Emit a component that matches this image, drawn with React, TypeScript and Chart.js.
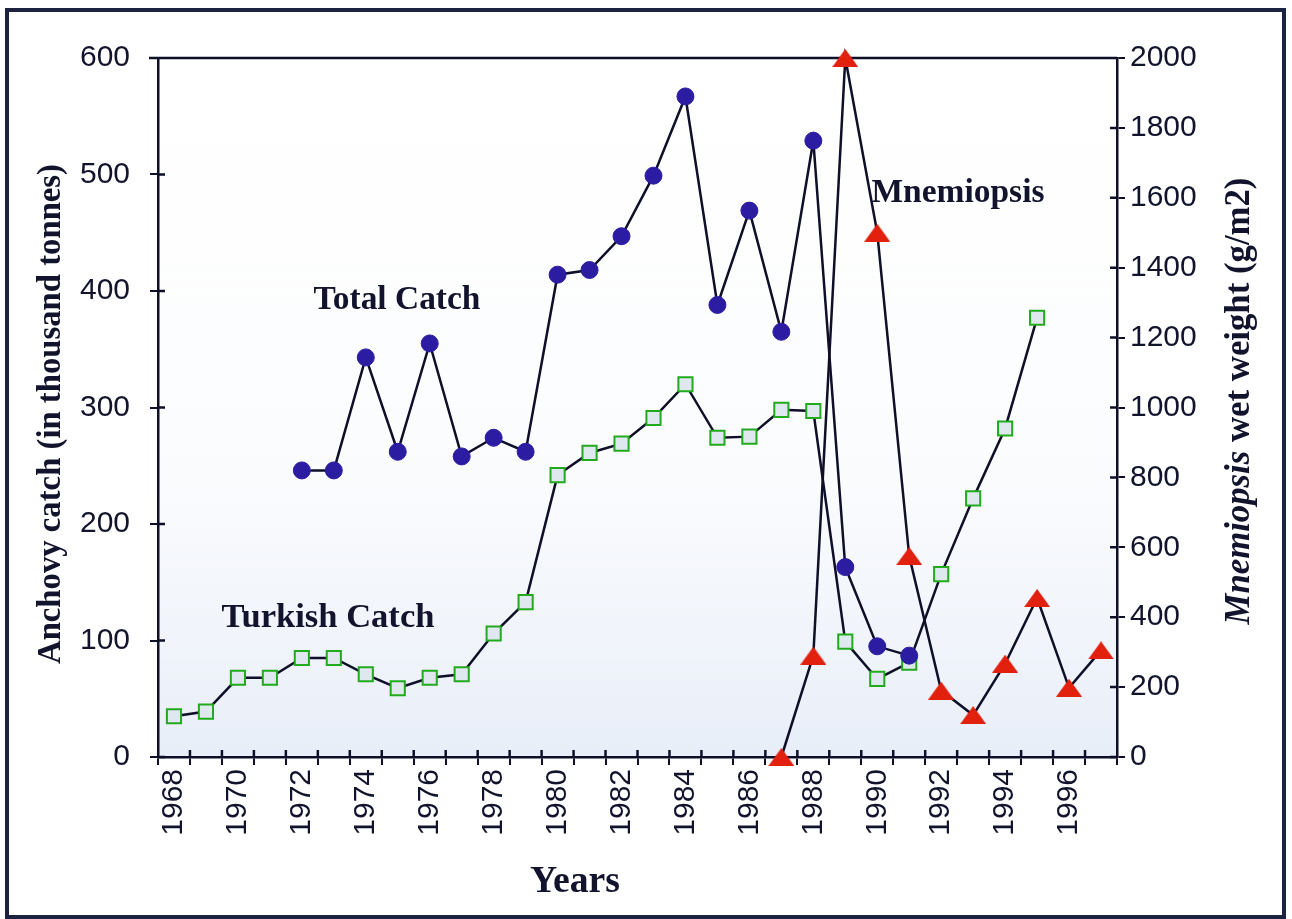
import React, { useEffect, useRef } from 'react';
import { Chart, registerables } from 'chart.js';

Chart.register(...registerables);

const years = [
  '1968', '1969', '1970', '1971', '1972', '1973', '1974', '1975', '1976', '1977',
  '1978', '1979', '1980', '1981', '1982', '1983', '1984', '1985', '1986', '1987',
  '1988', '1989', '1990', '1991', '1992', '1993', '1994', '1995', '1996', '1997',
];

// Anchovy catch, thousand tonnes (left axis)
const turkishCatch = [
  35, 39, 68, 68, 85, 85, 71, 59, 68, 71,
  106, 133, 242, 261, 269, 291, 320, 274, 275, 298,
  297, 99, 67, 81, 157, 222, 282, 377, null, null,
];

const totalCatch = [
  null, null, null, null, 246, 246, 343, 262, 355, 258,
  274, 262, 414, 418, 447, 499, 567, 388, 469, 365,
  529, 163, 95, 87, null, null, null, null, null, null,
];

// Mnemiopsis wet weight, g/m2 (right axis)
const mnemiopsis = [
  null, null, null, null, null, null, null, null, null, null,
  null, null, null, null, null, null, null, null, null, 0,
  290, 2000, 1500, 575, 190, 120, 267, 455, 198, 305,
];

const leftMin = 0;
const leftMax = 600;
const leftStep = 100;
const rightMin = 0;
const rightMax = 2000;
const rightStep = 200;

const INK = '#12142e';
const LINE = '#0e0f28';
const TICK_FONT = 'Liberation Sans';
const TITLE_FONT = '"Liberation Serif"';

function fitFont(ctx: CanvasRenderingContext2D, text: string, target: number, style: string) {
  ctx.font = `${style} 30px ${TITLE_FONT}`;
  const w = ctx.measureText(text).width;
  return (30 * target) / w;
}

const decorPlugin = {
  id: 'decor',
  beforeDraw(chart: any) {
    const { ctx, chartArea } = chart;
    const { left, right, top, bottom } = chartArea;
    ctx.save();
    const g = ctx.createLinearGradient(0, top, 0, bottom);
    g.addColorStop(0, 'rgba(232,238,248,0)');
    g.addColorStop(0.55, 'rgba(232,238,248,0.15)');
    g.addColorStop(1, 'rgba(224,232,246,0.75)');
    ctx.fillStyle = g;
    ctx.fillRect(left, top, right - left, bottom - top);
    ctx.restore();
  },
  beforeDatasetsDraw(chart: any) {
    const { ctx, chartArea } = chart;
    const { left, right, top, bottom } = chartArea;
    ctx.save();
    ctx.strokeStyle = LINE;
    ctx.lineWidth = 2.5;
    ctx.beginPath();
    ctx.moveTo(left - 9, top);
    ctx.lineTo(right, top);
    // inner halves of crossing tick marks
    const yl = chart.scales.y;
    yl.ticks.forEach((t: any) => {
      const p = yl.getPixelForValue(t.value);
      ctx.moveTo(left, p);
      ctx.lineTo(left + 7, p);
    });
    const yr = chart.scales.y1;
    yr.ticks.forEach((t: any) => {
      const p = yr.getPixelForValue(t.value);
      ctx.moveTo(right, p);
      ctx.lineTo(right - 7, p);
    });
    const xs = chart.scales.x;
    for (let i = 1; i < years.length; i++) {
      const p = (xs.getPixelForValue(i - 1) + xs.getPixelForValue(i)) / 2;
      ctx.moveTo(p, bottom);
      ctx.lineTo(p, bottom - 7);
    }
    ctx.stroke();
    ctx.restore();
  },
  afterDraw(chart: any) {
    const { ctx } = chart;
    ctx.save();
    ctx.fillStyle = INK;
    ctx.textBaseline = 'middle';
    ctx.textAlign = 'center';

    // left axis title
    const leftTitle = 'Anchovy catch (in thousand tonnes)';
    let s = fitFont(ctx, leftTitle, 500, 'bold');
    ctx.save();
    ctx.translate(52, 414);
    ctx.rotate(-Math.PI / 2);
    ctx.font = `bold ${s}px ${TITLE_FONT}`;
    ctx.fillText(leftTitle, 0, 0);
    ctx.restore();

    // right axis title (Mnemiopsis in italics)
    const rA = 'Mnemiopsis';
    const rB = ' wet weight (g/m2)';
    ctx.font = `bold italic 30px ${TITLE_FONT}`;
    const wA = ctx.measureText(rA).width;
    ctx.font = `bold 30px ${TITLE_FONT}`;
    const wB = ctx.measureText(rB).width;
    s = (30 * 447) / (wA + wB);
    ctx.save();
    ctx.translate(1240, 401);
    ctx.rotate(-Math.PI / 2);
    ctx.textAlign = 'left';
    const k = s / 30;
    const start = -((wA + wB) * k) / 2;
    ctx.font = `bold italic ${s}px ${TITLE_FONT}`;
    ctx.fillText(rA, start, 0);
    ctx.font = `bold ${s}px ${TITLE_FONT}`;
    ctx.fillText(rB, start + wA * k, 0);
    ctx.restore();

    // x axis title
    s = fitFont(ctx, 'Years', 90, 'bold');
    ctx.font = `bold ${s}px ${TITLE_FONT}`;
    ctx.fillText('Years', 575, 882);

    // series labels
    const labels: [string, number, number, number][] = [
      ['Total Catch', 397, 300, 167],
      ['Turkish Catch', 328, 618, 213],
      ['Mnemiopsis', 958, 193, 173],
    ];
    labels.forEach(([t, x, y, w]) => {
      const fs = fitFont(ctx, t, w, 'bold');
      ctx.font = `bold ${fs}px ${TITLE_FONT}`;
      ctx.fillText(t, x, y);
    });
    ctx.restore();
  },
};

function makeTriangle(w: number, h: number, color: string) {
  const c = document.createElement('canvas');
  c.width = w;
  c.height = h;
  const g = c.getContext('2d')!;
  g.fillStyle = color;
  g.beginPath();
  g.moveTo(w / 2, 0);
  g.lineTo(w, h);
  g.lineTo(0, h);
  g.closePath();
  g.fill();
  return c;
}

export default function App() {
  const ref = useRef<HTMLCanvasElement | null>(null);

  useEffect(() => {
    if (!ref.current) return;
    const tri = makeTriangle(26, 18, '#e2200e');
    const chart = new Chart(ref.current, {
      type: 'line',
      data: {
        labels: years,
        datasets: [
          {
            label: 'Mnemiopsis',
            data: mnemiopsis,
            yAxisID: 'y1',
            borderColor: LINE,
            borderWidth: 2.5,
            pointStyle: tri as any,
            pointRadius: 12,
            pointHoverRadius: 12,
            tension: 0,
            spanGaps: false,
            clip: false as any,
          },
          {
            label: 'Total Catch',
            data: totalCatch,
            yAxisID: 'y',
            borderColor: LINE,
            borderWidth: 2.5,
            pointStyle: 'circle',
            pointRadius: 8.5,
            pointHoverRadius: 8.5,
            pointBackgroundColor: '#2c1ca2',
            pointBorderColor: '#2c1ca2',
            pointBorderWidth: 1,
            tension: 0,
            spanGaps: false,
          },
          {
            label: 'Turkish Catch',
            data: turkishCatch,
            yAxisID: 'y',
            borderColor: LINE,
            borderWidth: 2.5,
            pointStyle: 'rect',
            pointRadius: 10,
            pointHoverRadius: 10,
            pointBackgroundColor: '#dfe8ef',
            pointBorderColor: '#22aa1e',
            pointBorderWidth: 2,
            tension: 0,
            spanGaps: false,
          },
        ],
      },
      options: {
        responsive: false,
        animation: false,
        devicePixelRatio: 1,
        layout: { padding: { top: 58, left: 0, right: 0, bottom: 0 } },
        plugins: {
          legend: { display: false },
          tooltip: { enabled: false },
          title: { display: false },
        },
        scales: {
          x: {
            type: 'category',
            offset: true,
            grid: {
              offset: true,
              drawOnChartArea: false,
              drawTicks: true,
              tickLength: 8,
              color: LINE,
              lineWidth: 2,
            },
            border: { display: true, color: LINE, width: 2.5 },
            ticks: {
              autoSkip: false,
              minRotation: 90,
              maxRotation: 90,
              padding: 4,
              color: INK,
              font: { family: TICK_FONT, size: 30 },
              callback: (_v: any, i: number) => (parseInt(years[i], 10) % 2 === 0 ? years[i] : ''),
            },
            afterFit: (sc: any) => {
              sc.height = 162;
            },
          },
          y: {
            type: 'linear',
            position: 'left',
            min: leftMin,
            max: leftMax,
            grid: {
              drawOnChartArea: false,
              drawTicks: true,
              tickLength: 8,
              color: LINE,
              lineWidth: 2,
            },
            border: { display: true, color: LINE, width: 2.5 },
            ticks: {
              stepSize: leftStep,
              padding: 20,
              color: INK,
              font: { family: TICK_FONT, size: 30 },
              callback: (v: any) => String(v),
            },
            afterFit: (sc: any) => {
              sc.width = 158;
            },
          },
          y1: {
            type: 'linear',
            position: 'right',
            min: rightMin,
            max: rightMax,
            grid: {
              drawOnChartArea: false,
              drawTicks: true,
              tickLength: 8,
              color: LINE,
              lineWidth: 2,
            },
            border: { display: true, color: LINE, width: 2.5 },
            ticks: {
              stepSize: rightStep,
              padding: 5,
              color: INK,
              font: { family: TICK_FONT, size: 30 },
              callback: (v: any) => String(v),
            },
            afterFit: (sc: any) => {
              sc.width = 175;
            },
          },
        },
      },
      plugins: [decorPlugin],
    });
    return () => chart.destroy();
  }, []);

  return (
    <div
      style={{
        position: 'fixed',
        left: 0,
        top: 0,
        width: 1292,
        height: 919,
        overflow: 'hidden',
        background: '#ffffff',
      }}
    >
      <div
        style={{
          position: 'absolute',
          left: 5,
          top: 8,
          width: 1281,
          height: 911,
          border: '4px solid #1c2340',
          boxSizing: 'border-box',
        }}
      />
      <canvas
        ref={ref}
        width={1292}
        height={919}
        style={{ position: 'absolute', left: 0, top: 0 }}
      />
    </div>
  );
}
